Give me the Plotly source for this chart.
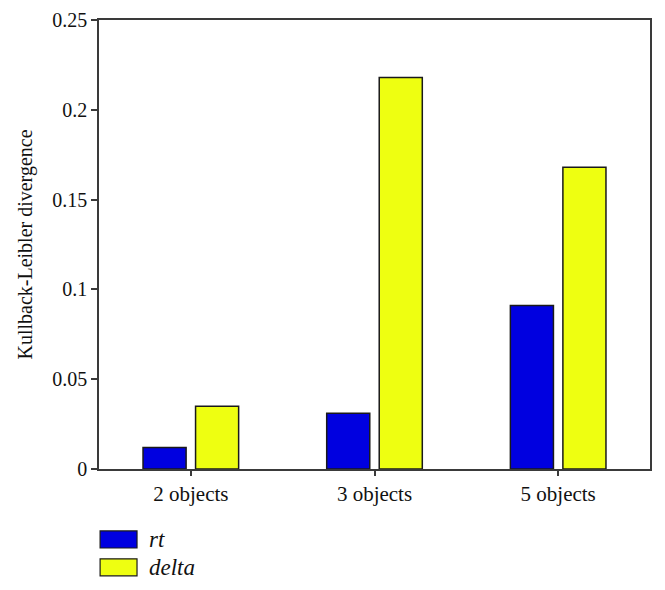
import plotly.graph_objects as go

categories = ["2 objects", "3 objects", "5 objects"]
rt_values = [0.012, 0.031, 0.091]
delta_values = [0.035, 0.218, 0.168]
series_names = ["rt", "delta"]
series_colors = ["#0000e0", "#eeff11"]

y_ticks = [0, 0.05, 0.1, 0.15, 0.2, 0.25]
y_tick_text = ["0", "0.05", "0.1", "0.15", "0.2", "0.25"]

font_family = "Liberation Serif, Times New Roman, serif"
axis_color = "#3a3a3a"

fig = go.Figure()
for name, vals, col in zip(series_names, [rt_values, delta_values], series_colors):
    fig.add_trace(go.Bar(x=categories, y=vals, name=name,
                         marker=dict(color=col, line=dict(color="#1a1a1a", width=1.5)),
                         showlegend=False))

# legend drawn by hand so the swatches are wide like the original
legend_shapes = []
legend_notes = []
for i, (name, col) in enumerate(zip(series_names, series_colors)):
    y_top = -0.138 - i * 0.062
    legend_shapes.append(dict(type="rect", xref="paper", yref="paper",
                              x0=0.002, x1=0.069, y0=y_top - 0.038, y1=y_top,
                              fillcolor=col, line=dict(color="#1a1a1a", width=1.2)))
    legend_notes.append(dict(xref="paper", yref="paper", x=0.088, y=y_top - 0.019,
                             text="<i>" + name + "</i>", showarrow=False,
                             xanchor="left", yanchor="middle",
                             font=dict(family=font_family, size=23, color="#111")))

# page has an 8px body margin, so the figure is a bit smaller than the window
fig.update_layout(
    width=657, height=582,
    margin=dict(l=91, r=15, t=12, b=121),
    paper_bgcolor="white", plot_bgcolor="white",
    barmode="group", bargap=0.428, bargroupgap=0.18,
    font=dict(family=font_family, size=20, color="#111"),
    shapes=legend_shapes, annotations=legend_notes,
)
fig.update_xaxes(showline=True, linecolor=axis_color, linewidth=1.5, mirror=True,
                 ticks="outside", ticklen=5, tickcolor=axis_color, tickwidth=1.5,
                 showgrid=False, tickfont=dict(size=21), automargin=False)
fig.update_yaxes(range=[0, 0.25], tickvals=y_ticks, ticktext=y_tick_text,
                 showline=True, linecolor=axis_color, linewidth=1.5, mirror=True,
                 ticks="outside", ticklen=6, tickcolor=axis_color, tickwidth=1.5,
                 showgrid=False, zeroline=False, tickfont=dict(size=20), automargin=False,
                 title=dict(text="Kullback-Leibler divergence", font=dict(size=20), standoff=14))

fig.write_html("out.html")
